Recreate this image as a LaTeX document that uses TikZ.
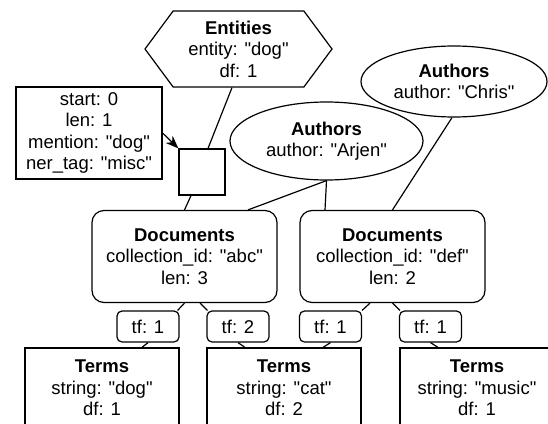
\documentclass[tikz,border=0pt]{standalone}
\usepackage{fontspec}
\setmainfont{Liberation Sans}
\usetikzlibrary{shapes.geometric,shapes.symbols,arrows.meta}
\newcommand{\dq}[1]{\textquotedbl#1\textquotedbl}

\begin{document}
\begin{tikzpicture}
  [x=1pt,y=-1pt,line width=1.2pt,
   every node/.style={align=center,inner sep=0pt,
     font=\fontsize{18.5}{21.5}\selectfont},
   entity/.style={draw,shape=signal,signal to=west and east,
     signal pointer angle=107,minimum width=187pt,minimum height=76pt},
   attrs/.style={draw,minimum width=146pt,minimum height=92pt},
   mention/.style={draw,minimum size=46pt},
   author/.style={draw,ellipse},
   doc/.style={draw,rounded corners=12pt,minimum width=185pt,minimum height=92pt},
   tf/.style={draw,rounded corners=5pt,minimum width=62pt,minimum height=31pt},
   term/.style={draw,minimum width=154pt,minimum height=80pt}]
  \useasboundingbox (0,0) rectangle (548,423);
  \clip (0,0) rectangle (548,423);
  % entity and its mention
  \node[entity] (ent) at (238.5,49) {\textbf{Entities}\\entity: \dq{dog}\\df: 1};
  \node[attrs] (att) at (89,133) {start: 0\\len: 1\\mention: \dq{dog}\\ner\_tag: \dq{misc}};
  \node[mention] (sq) at (202,172) {};
  % authors
  \node[author,minimum width=193pt,minimum height=78pt] (arjen) at (326.5,141)
    {\textbf{Authors}\\author: \dq{Arjen}};
  \node[author,minimum width=186pt,minimum height=71pt] (chris) at (454,81.5)
    {\textbf{Authors}\\author: \dq{Chris}};
  % documents
  \node[doc] (docA) at (184.5,256.5) {\textbf{Documents}\\collection\_id: \dq{abc}\\len: 3};
  \node[doc] (docB) at (392.5,256.5) {\textbf{Documents}\\collection\_id: \dq{def}\\len: 2};
  \node[tf] (tfA) at (148,326.5) {tf: 1};
  \node[tf] (tfB) at (238,326.5) {tf: 2};
  \node[tf] (tfC) at (330.5,326.5) {tf: 1};
  \node[tf] (tfD) at (430.5,326.5) {tf: 1};
  % terms
  \node[term] (termA) at (102,388) {\textbf{Terms}\\string: \dq{dog}\\df: 1};
  \node[term] (termB) at (284,388) {\textbf{Terms}\\string: \dq{cat}\\df: 2};
  \node[term] (termC) at (477,388) {\textbf{Terms}\\string: \dq{music}\\df: 1};

  \draw[-{Stealth[length=13pt,width=10pt]}] (att.east) -- (sq.north west);
  \draw ([xshift=-6.5pt]ent.south) -- ([xshift=6pt]sq.north);
  \draw ([xshift=-11pt]sq.south) -- (docA.north);
  \draw (arjen.south) -- ([xshift=63.5pt]docA.north);
  \draw (arjen.south) -- ([xshift=-67.5pt]docB.north);
  \draw ([xshift=-2pt]chris.south) -- (docB.north);
  \draw (docA.south) -- ([xshift=-2pt]tfA.north east);
  \draw ([xshift=15.5pt]docA.south) -- ([xshift=1pt]tfB.north west);
  \draw ([xshift=-22.5pt]docB.south) -- (tfC.north east);
  \draw (docB.south) -- ([xshift=1pt]tfD.north west);
  \draw (tfA.south) -- ([xshift=40pt]termA.north);
  \draw (tfB.south) -- ([xshift=-39pt]termB.north);
  \draw (tfC.south) -- ([xshift=39pt]termB.north);
  \draw (tfD.south) -- ([xshift=-39pt]termC.north);
\end{tikzpicture}
\end{document}
